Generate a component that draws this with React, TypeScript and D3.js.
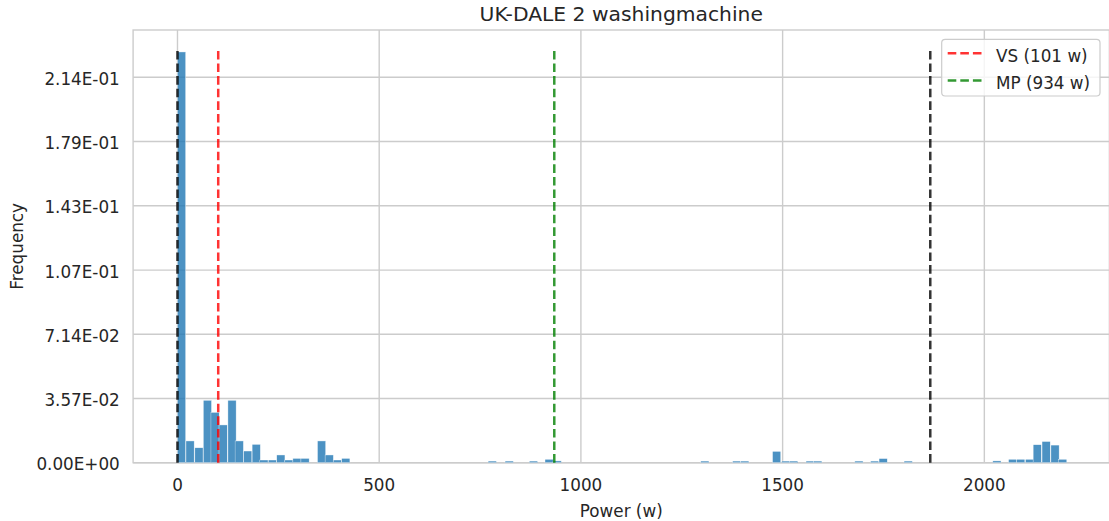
import React from 'react';
import * as d3 from 'd3';

// ---- data ----
const TITLE = 'UK-DALE 2 washingmachine';
const X_LABEL = 'Power (w)';
const Y_LABEL = 'Frequency';

const BIN_WIDTH_W = 20.4;
const binStartsW = [
  0, 21, 43, 64, 83, 103, 125, 143, 164, 185, 204, 225, 246, 266, 286, 306, 347, 366, 386, 407,
  770, 812, 872, 911, 931,
  1297, 1376, 1396, 1475, 1498, 1517, 1558, 1577, 1679, 1718, 1739, 1801,
  2021, 2060, 2080, 2102, 2121, 2143, 2165, 2184,
];
const frequencies = [
  0.2284, 0.0121, 0.0083, 0.0347, 0.028, 0.021, 0.0347, 0.0121, 0.0065, 0.0102, 0.0015, 0.0015, 0.0043, 0.0015, 0.0024, 0.0024, 0.0121, 0.0043, 0.0015, 0.0024,
  0.0009, 0.0009, 0.0009, 0.0019, 0.001,
  0.0009, 0.0009, 0.0009, 0.0063, 0.0009, 0.0009, 0.0009, 0.0009, 0.0009, 0.0009, 0.0023, 0.0009,
  0.001, 0.0019, 0.0019, 0.0019, 0.01, 0.0118, 0.0098, 0.0019,
];

const xTickValues = [0, 500, 1000, 1500, 2000];
const xTickLabels = ['0', '500', '1000', '1500', '2000'];
const yTickValues = [0, 0.0357, 0.0714, 0.1071, 0.1429, 0.1786, 0.2143];
const yTickLabels = ['0.00E+00', '3.57E-02', '7.14E-02', '1.07E-01', '1.43E-01', '1.79E-01', '2.14E-01'];

const vlineNames = ['', 'VS (101 w)', 'MP (934 w)', ''];
const vlinePositions = [0, 101, 934, 1866];
const vlineColors = ['#000000', '#ff0000', '#008000', '#000000'];
const VLINE_TOP = 0.2291;

const X_DOMAIN = [-110, 2310];
const Y_DOMAIN = [0, 0.2406];

// ---- layout ----
const W = 1109;
const H = 521;
const PLOT = { left: 133.1, right: 1109.4, top: 30, bottom: 462.7 };
const FONT = '"DejaVu Sans", Verdana, sans-serif';
const TEXT = '#262626';
const GRID = '#cccccc';

export default function App() {
  const x = d3.scaleLinear().domain(X_DOMAIN).range([PLOT.left, PLOT.right]);
  const y = d3.scaleLinear().domain(Y_DOMAIN).range([PLOT.bottom, PLOT.top]);

  const legendItems = vlineNames
    .map((n, i) => ({ name: n, color: vlineColors[i] }))
    .filter((d) => d.name !== '');

  return (
    <svg
      width={W}
      height={H}
      viewBox={`0 0 ${W} ${H}`}
      style={{ position: 'absolute', left: 0, top: 0, display: 'block', background: '#fff' }}
      fontFamily={FONT}
    >
      <rect x={0} y={0} width={W} height={H} fill="#fff" />
      {/* grid */}
      {xTickValues.map((v) => (
        <line key={'gx' + v} x1={x(v)} x2={x(v)} y1={PLOT.top} y2={PLOT.bottom} stroke={GRID} strokeWidth={1.4} />
      ))}
      {yTickValues.map((v) => (
        <line key={'gy' + v} x1={PLOT.left} x2={PLOT.right} y1={y(v)} y2={y(v)} stroke={GRID} strokeWidth={1.4} />
      ))}
      {/* spines */}
      <rect
        x={PLOT.left}
        y={PLOT.top}
        width={PLOT.right - PLOT.left}
        height={PLOT.bottom - PLOT.top}
        fill="none"
        stroke={GRID}
        strokeWidth={1.4}
      />
      {/* bars */}
      {binStartsW.map((s, i) => (
        <rect
          key={'b' + i}
          x={x(s)}
          y={y(frequencies[i])}
          width={x(s + BIN_WIDTH_W) - x(s)}
          height={y(0) - y(frequencies[i])}
          fill="#1f77b4"
          fillOpacity={0.8}
          stroke="#ffffff"
          strokeOpacity={0.8}
          strokeWidth={0.5}
        />
      ))}
      {/* vertical dashed lines */}
      {vlinePositions.map((p, i) => (
        <line
          key={'v' + i}
          x1={x(p)}
          x2={x(p)}
          y1={y(0)}
          y2={y(VLINE_TOP)}
          stroke={vlineColors[i]}
          strokeOpacity={0.8}
          strokeWidth={2.5}
          strokeDasharray="8.6 4"
        />
      ))}
      {/* x ticks */}
      {xTickValues.map((v, i) => (
        <text key={'xt' + v} x={x(v)} y={490.5} textAnchor="middle" fontSize={16.8} fill={TEXT}>
          {xTickLabels[i]}
        </text>
      ))}
      {/* y ticks */}
      {yTickValues.map((v, i) => (
        <text key={'yt' + v} x={119.8} y={y(v) + 7.5} textAnchor="end" fontSize={16.8} fill={TEXT}>
          {yTickLabels[i]}
        </text>
      ))}
      {/* labels */}
      <text x={(PLOT.left + PLOT.right) / 2} y={516.5} textAnchor="middle" fontSize={16.8} fill={TEXT}>
        {X_LABEL}
      </text>
      <text
        transform={`translate(22.5, ${(PLOT.top + PLOT.bottom) / 2}) rotate(-90)`}
        textAnchor="middle"
        fontSize={16.8}
        fill={TEXT}
      >
        {Y_LABEL}
      </text>
      <text x={(PLOT.left + PLOT.right) / 2} y={20.5} textAnchor="middle" fontSize={20.3} fill={TEXT}>
        {TITLE}
      </text>
      {/* legend */}
      <g>
        <rect
          x={941.7}
          y={39.3}
          width={1100 - 941.7}
          height={96 - 39.3}
          rx={3.5}
          fill="#ffffff"
          fillOpacity={0.8}
          stroke="#cccccc"
          strokeWidth={1.2}
        />
        {legendItems.map((d, i) => (
          <g key={'lg' + i}>
            <line
              x1={947.7}
              x2={981.7}
              y1={53.3 + i * 27.2}
              y2={53.3 + i * 27.2}
              stroke={d.color}
              strokeOpacity={0.8}
              strokeWidth={2.5}
              strokeDasharray="8.6 4"
            />
            <text x={996} y={61.5 + i * 27} fontSize={16.8} fill={TEXT}>
              {d.name}
            </text>
          </g>
        ))}
      </g>
    </svg>
  );
}
